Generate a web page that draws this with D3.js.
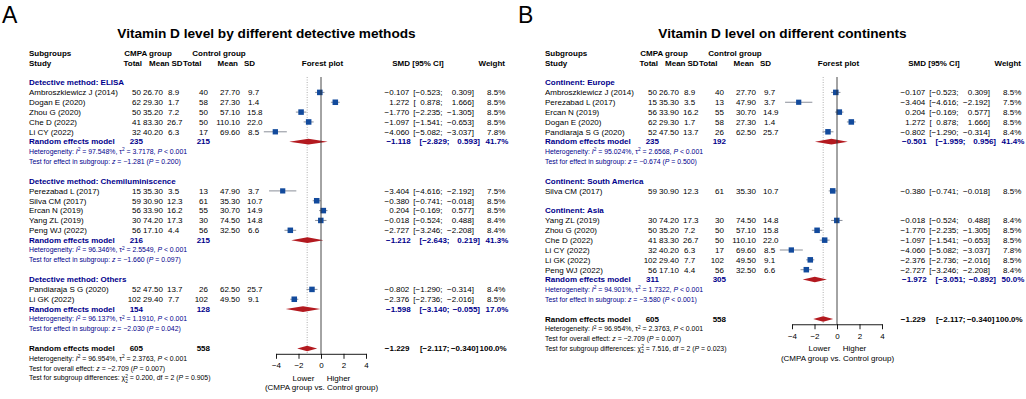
<!DOCTYPE html>
<html>
<head>
<meta charset="utf-8">
<script src="https://cdn.jsdelivr.net/npm/d3@7"></script>
<style>
body { margin: 0; background: #fff; }
</style>
</head>
<body>
<div id="chart"></div>
<script>
// study level data (same studies in both panels)
var studies   = ["Ambroszkiewicz J (2014)", "Dogan E (2020)", "Zhou G (2020)", "Che D (2022)", "Li CY (2022)",
                 "Perezabad L (2017)", "Silva CM (2017)", "Ercan N (2019)", "Yang ZL (2019)", "Peng WJ (2022)",
                 "Pandiaraja S G (2020)", "Li GK (2022)"];
var cmpaTotal = [50, 62, 50, 41, 32, 15, 59, 56, 30, 56, 52, 102];
var cmpaMean  = [26.70, 29.30, 35.20, 83.30, 40.20, 35.30, 30.90, 33.90, 74.20, 17.10, 47.50, 29.40];
var cmpaSD    = [8.9, 1.7, 7.2, 26.7, 6.3, 3.5, 12.3, 16.2, 17.3, 4.4, 13.7, 7.7];
var ctrlTotal = [40, 58, 50, 50, 17, 13, 61, 55, 30, 56, 26, 102];
var ctrlMean  = [27.70, 27.30, 57.10, 110.10, 69.60, 47.90, 35.30, 30.70, 74.50, 32.50, 62.50, 49.50];
var ctrlSD    = [9.7, 1.4, 15.8, 22.0, 8.5, 3.7, 10.7, 14.9, 14.8, 6.6, 25.7, 9.1];
var smd       = [-0.107, 1.272, -1.770, -1.097, -4.060, -3.404, -0.380, 0.204, -0.018, -2.727, -0.802, -2.376];
var ciLow     = [-0.523, 0.878, -2.235, -1.541, -5.082, -4.616, -0.741, -0.169, -0.524, -3.246, -1.290, -2.736];
var ciHigh    = [0.309, 1.666, -1.305, -0.653, -3.037, -2.192, -0.018, 0.577, 0.488, -2.208, -0.314, -2.016];
var weight    = [8.5, 8.5, 8.5, 8.5, 7.8, 7.5, 8.5, 8.5, 8.4, 8.4, 8.4, 8.5];

// panel A subgroups
var labelsA  = ["Detective method: ELISA", "Detective method: Chemiluminiscence", "Detective method: Others"];
var membersA = [[0, 1, 2, 3, 4], [5, 6, 7, 8, 9], [10, 11]];
var nA       = [[235, 215], [216, 215], [154, 128]];
var estA     = [[-1.118, -2.829, 0.593, 41.7], [-1.212, -2.643, 0.219, 41.3], [-1.598, -3.140, -0.055, 17.0]];
var hetA     = [["97.548%", "3.7178", "< 0.001"], ["96.346%", "2.5549", "< 0.001"], ["96.137%", "1.1910", "< 0.001"]];
var testA    = [["−1.281", "= 0.200"], ["−1.660", "= 0.097"], ["−2.030", "= 0.042"]];
var diffA    = ["0.200", "2", "= 0.905"];

// panel B subgroups
var labelsB  = ["Continent: Europe", "Continent: South America", "Continent: Asia"];
var membersB = [[0, 5, 7, 1, 10], [6], [8, 2, 3, 4, 11, 9]];
var nB       = [[235, 192], null, [311, 305]];
var estB     = [[-0.501, -1.959, 0.956, 41.4], null, [-1.972, -3.051, -0.892, 50.0]];
var hetB     = [["95.024%", "2.6568", "< 0.001"], null, ["94.901%", "1.7322", "< 0.001"]];
var testB    = [["−0.674", "= 0.500"], null, ["−3.580", "< 0.001"]];
var diffB    = ["7.516", "2", "= 0.023"];

// overall random effects model
var overallN    = [605, 558];
var overallEst  = [-1.229, -2.117, -0.340, 100.0];
var overallHet  = ["96.954%", "2.3763", "< 0.001"];
var overallTest = ["−2.709", "= 0.007"];

var axisTicks = [-4, -2, 0, 2, 4];

var W = 1026, H = 399;
var FS = 8.0, FS_SMALL = 6.9, FS_TITLE = 13.65;
var BLUE = "#00008b", SQUARE = "#124a9c", DIAMOND = "#b3191f";

var svg = d3.select("#chart").append("svg")
            .attr("width", W).attr("height", H)
            .attr("font-family", "'Liberation Sans', Arial, Helvetica, sans-serif");

function rowY(i) { return 53 + 9.85 * i; }

function fmt3(v) { return (v < 0 ? "−" : "") + Math.abs(v).toFixed(3); }

function txt(g, x, y, s, o) {
    o = o || {};
    return g.append("text")
        .attr("x", x).attr("y", y).attr("dy", "0.35em")
        .attr("text-anchor", o.anchor || "start")
        .attr("font-size", o.size || FS)
        .attr("font-weight", o.bold ? "bold" : "normal")
        .attr("fill", o.color || "#000")
        .text(s);
}

// stats line with italic symbols and superscripts
function richLine(g, x, y, parts, color) {
    var t = g.append("text").attr("x", x).attr("y", y).attr("dy", "0.35em")
             .attr("font-size", FS_SMALL).attr("fill", color);
    parts.forEach(function(p) {
        var s = t.append("tspan").text(p.t);
        if (p.i) s.attr("font-style", "italic");
        if (p.sup) s.attr("font-size", FS_SMALL * 0.7).attr("dy", -2.6);
        if (p.sub) s.attr("font-size", FS_SMALL * 0.7).attr("dy", p.dy).attr("dx", p.dx || 0);
        if (p.back) s.attr("dy", p.back);
    });
}

function hetLine(g, x, y, h, color) {
    richLine(g, x, y, [
        {t: "Heterogeneity: "}, {t: "I", i: true}, {t: "2", sup: true},
        {t: " = " + h[0] + ", τ", back: 2.6}, {t: "2", sup: true},
        {t: " = " + h[1] + ", ", back: 2.6}, {t: "P", i: true}, {t: " " + h[2]}
    ], color);
}

function testLine(g, x, y, label, te, color) {
    richLine(g, x, y, [
        {t: label}, {t: "z", i: true}, {t: " = " + te[0] + " ("}, {t: "P", i: true}, {t: " " + te[1] + ")"}
    ], color);
}

function drawPanel(cfg) {
    var g = svg.append("g").attr("transform", "translate(" + cfg.dx + ",0)");

    var c = {name: 29, t1: 141, m1: 163, s1: 167, t2: 208, m2: 240, s2: 247};
    // SMD / CI / weight right edges: normal rows, subgroup summaries, overall summary
    var colN = {est: 409.3, lo: 442.5, hi: 474, w: 505.3};
    var colS = {est: 410.7, lo: 449.5, hi: 480, w: 508.3};
    var colO = {est: 409.5, lo: 449.5, hi: 478.3, w: 506.7};

    g.append("text").attr("x", 2).attr("y", 23).attr("font-size", 23).text(cfg.letter);
    g.append("text").attr("x", 266.5).attr("y", 37.5).attr("text-anchor", "middle")
     .attr("font-size", FS_TITLE).attr("font-weight", "bold").text(cfg.title);

    // headers
    txt(g, c.name, rowY(0), "Subgroups", {bold: true});
    txt(g, c.name, rowY(1), "Study", {bold: true});
    txt(g, 148, rowY(0), "CMPA group", {bold: true, anchor: "middle"});
    txt(g, 219, rowY(0), "Control group", {bold: true, anchor: "middle"});
    txt(g, 142, rowY(1), "Total", {bold: true, anchor: "end"});
    txt(g, 169.5, rowY(1), "Mean", {bold: true, anchor: "end"});
    txt(g, 182.5, rowY(1), "SD", {bold: true, anchor: "end"});
    txt(g, 201.5, rowY(1), "Total", {bold: true, anchor: "end"});
    txt(g, 238, rowY(1), "Mean", {bold: true, anchor: "end"});
    txt(g, 255, rowY(1), "SD", {bold: true, anchor: "end"});
    txt(g, 322.5, rowY(1), "Forest plot", {bold: true, anchor: "middle"});
    txt(g, 418, rowY(1), "SMD [95% CI]", {bold: true, anchor: "middle"});
    txt(g, 505, rowY(1), "Weight", {bold: true, anchor: "end"});

    var x = d3.scaleLinear().domain([-4, 4]).range([276, 366]);
    var sq = d3.scaleSqrt().domain([0, 10]).range([0, 6]);

    function estText(y, e, col, o) {
        var lo = (e[1] < 0 ? "−" : "\u2007") + Math.abs(e[1]).toFixed(3);
        txt(g, col.est, y, fmt3(e[0]), Object.assign({anchor: "end"}, o));
        txt(g, col.lo, y, "[" + lo + ";", Object.assign({anchor: "end"}, o));
        txt(g, col.hi, y, fmt3(e[2]) + "]", Object.assign({anchor: "end"}, o));
        txt(g, col.w, y, e[3].toFixed(1) + "%", Object.assign({anchor: "end"}, o));
    }

    function diamond(y, e) {
        var pts = [[x(e[1]), y], [x(e[0]), y - 2.8], [x(e[2]), y], [x(e[0]), y + 2.8]];
        g.append("path").attr("d", "M" + pts.join("L") + "Z").attr("fill", DIAMOND);
    }

    var marks = g.append("g");
    var r = 3;
    cfg.labels.forEach(function(lab, k) {
        txt(g, c.name, rowY(r), lab, {bold: true, color: BLUE});
        r++;
        cfg.members[k].forEach(function(i) {
            var y = rowY(r);
            txt(g, c.name, y, studies[i]);
            txt(g, c.t1, y, cmpaTotal[i], {anchor: "end"});
            txt(g, c.m1, y, cmpaMean[i].toFixed(2), {anchor: "end"});
            txt(g, c.s1 + (cmpaSD[i] < 10 ? 1 : 0), y, cmpaSD[i].toFixed(1));
            txt(g, c.t2, y, ctrlTotal[i], {anchor: "end"});
            txt(g, c.m2, y, ctrlMean[i].toFixed(2), {anchor: "end"});
            txt(g, c.s2 + (ctrlSD[i] < 10 ? 1 : 0), y, ctrlSD[i].toFixed(1));
            estText(y, [smd[i], ciLow[i], ciHigh[i], weight[i]], colN, {});
            marks.append("line")
                 .attr("x1", x(ciLow[i])).attr("x2", x(ciHigh[i]))
                 .attr("y1", y).attr("y2", y)
                 .attr("stroke", "#8a8f99").attr("stroke-width", 1);
            var s = sq(weight[i]);
            marks.append("rect")
                 .attr("x", x(smd[i]) - s / 2).attr("y", y - s / 2)
                 .attr("width", s).attr("height", s)
                 .attr("fill", SQUARE);
            r++;
        });
        if (cfg.est[k]) {
            var y = rowY(r);
            txt(g, c.name, y, "Random effects model", {bold: true, color: BLUE});
            txt(g, c.t1 + 2, y, cfg.n[k][0], {bold: true, color: BLUE, anchor: "end"});
            txt(g, c.t2 + 2, y, cfg.n[k][1], {bold: true, color: BLUE, anchor: "end"});
            estText(y, cfg.est[k], colS, {bold: true, color: BLUE});
            diamond(y, cfg.est[k]);
            r++;
            hetLine(g, c.name, rowY(r), cfg.het[k], BLUE);
            r++;
            testLine(g, c.name, rowY(r), "Test for effect in subgroup: ", cfg.test[k], BLUE);
            r++;
        }
        r++;
    });

    // overall
    var yo = rowY(r);
    txt(g, c.name, yo, "Random effects model", {bold: true});
    txt(g, c.t1 + 2, yo, overallN[0], {bold: true, anchor: "end"});
    txt(g, c.t2 + 2, yo, overallN[1], {bold: true, anchor: "end"});
    estText(yo, overallEst, colO, {bold: true});
    diamond(yo, overallEst);
    hetLine(g, c.name, rowY(r + 1), overallHet, "#000");
    testLine(g, c.name, rowY(r + 2), "Test for overall effect: ", overallTest, "#000");
    richLine(g, c.name, rowY(r + 3), [
        {t: "Test for subgroup differences: χ"}, {t: "2", sup: true},
        {t: cfg.diff[1], sub: true, dy: 5.0, dx: -2.7}, {t: " = " + cfg.diff[0] + ", df = " + cfg.diff[1] + " (", back: -2.4},
        {t: "P", i: true}, {t: " " + cfg.diff[2] + ")"}
    ], "#000");

    // reference lines and axis
    var axisY = yo + 5.3;
    g.insert("line", ":first-child")
     .attr("x1", x(overallEst[0])).attr("x2", x(overallEst[0]))
     .attr("y1", 77).attr("y2", axisY)
     .attr("stroke", "#999").attr("stroke-width", 0.8).attr("stroke-dasharray", "1,1.5");
    g.append("line")
     .attr("x1", x(0)).attr("x2", x(0)).attr("y1", 77).attr("y2", axisY)
     .attr("stroke", "#333").attr("stroke-width", 0.9);

    var ax = g.append("g").attr("transform", "translate(0," + axisY + ")")
              .call(d3.axisBottom(x).tickValues(axisTicks).tickSize(5).tickSizeOuter(0).tickPadding(4)
                       .tickFormat(function(d) { return d < 0 ? "−" + Math.abs(d) : d; }));
    ax.attr("font-family", null).attr("font-size", null);
    ax.selectAll("text").attr("font-size", FS).attr("fill", "#000");
    ax.selectAll("path, line").attr("stroke", "#000").attr("stroke-width", 0.9);

    txt(g, x(0) - 17.5, axisY + 24, "Lower", {anchor: "middle"});
    txt(g, x(0) + 17.5, axisY + 24, "Higher", {anchor: "middle"});
    txt(g, x(0) + 0.5, axisY + 33.5, "(CMPA group vs. Control group)", {anchor: "middle"});
}

drawPanel({dx: 0, letter: "A", title: "Vitamin D level by different detective methods",
           labels: labelsA, members: membersA, n: nA, est: estA, het: hetA, test: testA, diff: diffA});
drawPanel({dx: 516, letter: "B", title: "Vitamin D level on different continents",
           labels: labelsB, members: membersB, n: nB, est: estB, het: hetB, test: testB, diff: diffB});
</script>
</body>
</html>
